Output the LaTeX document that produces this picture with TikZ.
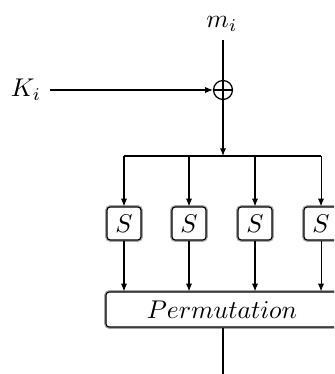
\documentclass[tikz,border=0pt]{standalone}
\usetikzlibrary{arrows.meta}
\begin{document}
\begin{tikzpicture}[x=0.39pt,y=-0.39pt,
  arr/.style={-{Latex[length=3pt,width=2.4pt]}},
  box/.style={draw=black,line width=0.45pt,rounded corners=1.3pt,
    preaction={draw=black!35,line width=1.4pt},fill=white},
  sbox/.style={box,minimum width=13.3pt,minimum height=12.9pt,inner sep=0pt},
  pbox/.style={box,minimum width=90.5pt,minimum height=13.7pt,inner sep=0pt},
  xorc/.style={circle,draw,line width=0.5pt,minimum size=7.4pt,inner sep=0pt,
    path picture={\draw[line width=0.5pt] (path picture bounding box.north) -- (path picture bounding box.south)
      (path picture bounding box.west) -- (path picture bounding box.east);}}]
\useasboundingbox (0,0) rectangle (334,374);
\clip (0,0) rectangle (334,374);
\node (mi) at (222,24) {$m_i$};
\node (ki) at (26,90) {$K_i$};
\node[xorc] (xor) at (223,90) {};
\coordinate (split) at (223,156);
\coordinate (l1) at (124,156);
\coordinate (l4) at (321,156);
\node[sbox] (s1) at (124,223.5) {$S$};
\node[sbox] (s2) at (189,223.5) {$S$};
\node[sbox] (s3) at (255,223.5) {$S$};
\node[sbox] (s4) at (321,223.5) {$S$};
\node[pbox] (perm) at (222,309.5) {$Permutation$};
\coordinate (out) at (223,380);

\draw (223,40) -- (xor.north);
\draw[arr] (50,90) -- (xor.west);
\draw[arr] (xor.south) -- (split);
\draw (l1) -- (l4);
\foreach \i in {1,2,3,4}{
  \draw[arr] (s\i.north |- split) -- (s\i.north);
  \draw[arr] (s\i.south) -- (s\i.south |- perm.north);
}
\draw (perm.south -| out) -- (out);
\end{tikzpicture}
\end{document}
